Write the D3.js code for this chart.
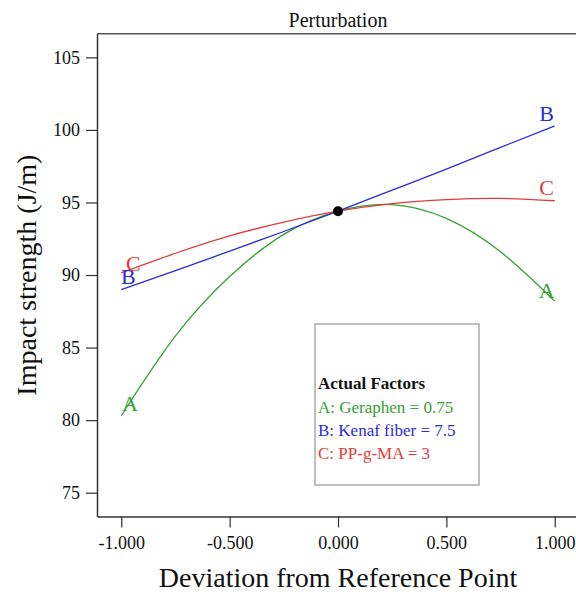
<!DOCTYPE html>
<html>
<head>
<meta charset="utf-8">
<script src="https://cdn.jsdelivr.net/npm/d3@7"></script>
<style>
  body { margin: 0; background: #fff; }
  svg { display: block; font-family: "Liberation Serif", "Times New Roman", serif; }
</style>
</head>
<body>
<svg id="chart" width="576" height="592"></svg>
<script>
// deviation from the reference point, and the response
const deviation = [-1, -0.75, -0.5, -0.25, 0, 0.25, 0.5, 0.75, 1];
const seriesA = [80.3, 85.8, 89.9, 92.8, 94.4, 94.85, 93.9, 91.6, 88.2];
const seriesB = [89.0, 90.3, 91.65, 93.0, 94.4, 95.85, 97.3, 98.8, 100.27];
const seriesC = [90.15, 91.5, 92.7, 93.65, 94.4, 94.92, 95.2, 95.28, 95.12];
const referenceValue = 94.4;

const xTicks = [-1, -0.5, 0, 0.5, 1];
const yTicks = [75, 80, 85, 90, 95, 100, 105];

const factorNames = ['A', 'B', 'C'];
const factorLabels = ['A: Geraphen = 0.75', 'B: Kenaf fiber = 7.5', 'C: PP-g-MA = 3'];
// where the letters sit next to the curve ends, in data units
const letterLeft = [[-0.96, 81.15], [-0.967, 89.93], [-0.944, 90.8]];
const letterRight = [[0.963, 88.96], [0.963, 101.14], [0.963, 96.04]];

const colors = ['#33a333', '#2b2bdc', '#e33b3b'];

function translate(x, y) {
    return `translate(${x},${y})`;
}

let svg = d3.select('#chart');

let x = d3.scaleLinear().domain([-1.112, 1.112]).range([97, 579]);
let y = d3.scaleLinear().domain([73.36, 106.63]).range([516.5, 33.7]);

// title
svg.append('text')
    .attr('x', x(0))
    .attr('y', 27)
    .attr('text-anchor', 'middle')
    .style('font-size', '20px')
    .style('fill', '#111')
    .text('Perturbation');

// top border of the plot
svg.append('line')
    .attr('x1', x.range()[0])
    .attr('x2', x.range()[1])
    .attr('y1', y.range()[1])
    .attr('y2', y.range()[1])
    .style('stroke', '#555')
    .style('stroke-width', 1.5);

let yAxis = svg.append('g')
    .attr('transform', translate(x.range()[0], 0))
    .call(d3.axisLeft(y).tickValues(yTicks).tickSize(11).tickSizeOuter(0).tickPadding(6));

let xAxis = svg.append('g')
    .attr('transform', translate(0, y.range()[0]))
    .call(d3.axisBottom(x).tickValues(xTicks).tickSize(11).tickSizeOuter(0).tickPadding(9)
        .tickFormat(d => d.toFixed(3)));

[xAxis, yAxis].forEach(a => {
    a.select('.domain').style('stroke', '#333').style('stroke-width', 1.5);
    a.selectAll('.tick line').style('stroke', '#333').style('stroke-width', 1.2);
    a.selectAll('.tick text')
        .style('font-family', '"Liberation Serif", "Times New Roman", serif')
        .style('font-size', '18px')
        .style('fill', '#111');
});

// axis titles
svg.append('text')
    .attr('x', x(0))
    .attr('y', 587)
    .attr('text-anchor', 'middle')
    .style('font-size', '28px')
    .style('fill', '#111')
    .text('Deviation from Reference Point');

svg.append('text')
    .attr('transform', translate(36, (y.range()[0] + y.range()[1]) / 2) + ' rotate(-90)')
    .attr('text-anchor', 'middle')
    .style('font-size', '28px')
    .style('fill', '#111')
    .text('Impact strength (J/m)');

// curves
let line = d3.line()
    .x((d, i) => x(deviation[i]))
    .y(d => y(d))
    .curve(d3.curveNatural);

let plot = svg.append('g');

plot.selectAll('path.trace')
    .data([seriesA, seriesB, seriesC])
    .enter()
    .append('path')
    .attr('class', 'trace')
    .attr('d', line)
    .style('fill', 'none')
    .style('stroke', (d, i) => colors[i])
    .style('stroke-width', 1.3);

// letters at both ends
[letterLeft, letterRight].forEach(pos => {
    plot.selectAll(null)
        .data(pos)
        .enter()
        .append('text')
        .attr('x', d => x(d[0]))
        .attr('y', d => y(d[1]))
        .attr('dy', '0.35em')
        .attr('text-anchor', 'middle')
        .style('font-size', '22px')
        .style('fill', (d, i) => colors[i])
        .text((d, i) => factorNames[i]);
});

// reference point
plot.append('circle')
    .attr('cx', x(0))
    .attr('cy', y(referenceValue))
    .attr('r', 5)
    .style('fill', '#000');

// legend box
let legend = svg.append('g').attr('transform', translate(315, 324));

legend.append('rect')
    .attr('width', 164)
    .attr('height', 161)
    .style('fill', '#fff')
    .style('stroke', '#aaa')
    .style('stroke-width', 1.5);

legend.append('text')
    .attr('x', 3)
    .attr('y', 65)
    .style('font-size', '17px')
    .style('font-weight', 'bold')
    .style('fill', '#111')
    .text('Actual Factors');

legend.selectAll('text.factor')
    .data(factorLabels)
    .enter()
    .append('text')
    .attr('class', 'factor')
    .attr('x', 3)
    .attr('y', (d, i) => 88.5 + i * 23)
    .style('font-size', '17px')
    .style('fill', (d, i) => colors[i])
    .text(d => d);
</script>
</body>
</html>
